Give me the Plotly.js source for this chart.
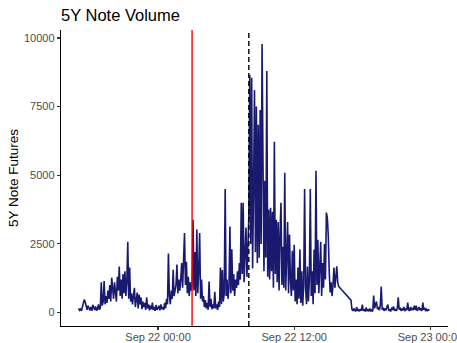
<!DOCTYPE html>
<html>
<head>
<meta charset="utf-8">
<script src="https://cdn.plot.ly/plotly-3.0.1.min.js"></script>
<style>html,body{margin:0;padding:0;background:#fff;}#chart{width:457px;height:343px;}</style>
</head>
<body>
<div id="chart"></div>
<script>
// Session starts (Central time) and sampling step in minutes
var overnightStart = '2021-09-21 17:00';
var eveningStart = '2021-09-22 17:00';
var stepMinutes = 5;

// 5Y Note futures volume, 5-minute samples, Sep 21 17:00 -> Sep 22 15:55 (one row per hour)
var volumeOvernight = [
  150, 80, 120, 60, 200, 300, 470, 380, 200, 100, 250, 120,      // 17
  80, 200, 60, 280, 150, 90, 220, 70, 130, 300, 100, 180,        // 18
  1100, 250, 400, 1150, 300, 600, 350, 800, 500, 1000, 400, 1270, // 19
  900, 500, 1100, 700, 400, 1300, 800, 1680, 600, 1200, 500, 1400, // 20
  700, 1500, 600, 1100, 2580, 500, 1640, 400, 700, 300, 600, 900, // 21
  200, 500, 730, 150, 650, 300, 550, 120, 400, 200, 350, 100,    // 22
  550, 150, 300, 80, 250, 120, 360, 90, 200, 60, 280, 100,       // 23
  150, 250, 80, 300, 120, 200, 100, 350, 150, 500, 300, 2150,    // 00
  600, 300, 800, 500, 1560, 600, 900, 1000, 1750, 700, 1200, 800, // 01
  1200, 1800, 900, 2180, 2900, 1000, 1850, 700, 1300, 600, 1100, 800, // 02
  1000, 3380, 800, 2200, 600, 3020, 700, 1500, 2900, 500, 1200, 400, // 03
  600, 200, 450, 150, 350, 100, 1130, 200, 500, 120, 300, 150,   // 04
  760, 150, 300, 100, 400, 200, 1640, 300, 1550, 400, 700, 4500, // 05
  600, 1200, 500, 900, 3130, 700, 2300, 800, 1400, 600, 1200, 900, // 06
  1500, 1000, 1800, 1200, 4000, 1400, 4000, 1100, 2000, 3100, 1300, 2400, // 07
  3500, 8650, 2500, 8550, 1600, 4500, 8100, 2200, 7500, 1800, 6840, 2000, // 08
  7380, 2500, 9780, 5450, 1500, 4800, 2000, 8800, 1300, 3750, 1200, 3820, // 09
  1500, 3670, 900, 6220, 1400, 3380, 1100, 3300, 800, 2900, 4000, 1000, // 10
  2400, 900, 5090, 800, 2000, 3300, 700, 2840, 1200, 600, 2250, 800, // 11
  2470, 400, 1200, 300, 1640, 500, 2300, 350, 1500, 250, 1000, 4500, // 12
  900, 300, 1680, 400, 1200, 4500, 600, 1500, 300, 2300, 700, 5160, // 13
  1000, 2650, 700, 1500, 2580, 600, 1800, 900, 2500, 1200, 3640, 3450, // 14
  2800, 1500, 730, 1100, 600, 1000, 1640, 900, 1500, 1680, 1100, 950  // 15
];

// Sep 22 17:00 -> 23:55
var volumeEvening = [
  450, 120, 60, 150, 80, 40, 200, 60, 100, 50, 130, 70,   // 17
  290, 60, 120, 40, 180, 70, 100, 50, 150, 60, 90, 40,    // 18
  620, 150, 300, 400, 120, 200, 80, 250, 950, 100, 180, 60, // 19
  150, 80, 200, 290, 60, 120, 40, 180, 90, 220, 70, 110,  // 20
  60, 150, 550, 100, 180, 60, 130, 80, 200, 50, 150, 90,  // 21
  360, 100, 60, 200, 80, 150, 120, 250, 90, 250, 60, 130, // 22
  200, 80, 150, 60, 360, 100, 180, 50, 120, 70, 100, 80   // 23
];

var eventRed = '2021-09-22 03:00';
var eventDashed = '2021-09-22 08:00';
var xTickVals = ['2021-09-22 00:00', '2021-09-22 12:00', '2021-09-23 00:00'];
var yTickVals = [0, 2500, 5000, 7500, 10000];
var xRange = ['2021-09-21 15:27', '2021-09-23 01:33'];
var yRange = [-490, 10290];

function pad(n){ return (n < 10 ? '0' : '') + n; }
function stamps(start, count) {
  var p = start.split(/[- :]/).map(Number);
  var t0 = Date.UTC(p[0], p[1]-1, p[2], p[3], p[4]);
  var out = [];
  for (var i = 0; i < count; i++) {
    var d = new Date(t0 + i * stepMinutes * 60000);
    out.push(d.getUTCFullYear() + '-' + pad(d.getUTCMonth()+1) + '-' + pad(d.getUTCDate()) + ' ' + pad(d.getUTCHours()) + ':' + pad(d.getUTCMinutes()));
  }
  return out;
}

var xs = stamps(overnightStart, volumeOvernight.length).concat(stamps(eveningStart, volumeEvening.length));
var ys = volumeOvernight.concat(volumeEvening);

var trace = {
  x: xs, y: ys, type: 'scatter', mode: 'lines',
  line: {color: '#191970', width: 1.6},
  hoverinfo: 'skip'
};

var FONT = 'Liberation Sans, Arial, sans-serif';
var axisFont = {family: FONT, size: 11, color: '#4d4d4d'};

var layout = {
  width: 457, height: 343,
  margin: {l: 61, r: 9, t: 30, b: 17, pad: 0},
  paper_bgcolor: '#ffffff', plot_bgcolor: '#ffffff',
  showlegend: false,
  font: {family: FONT, color: '#000'},
  title: {
    text: '5Y Note Volume', x: 61/457, xref: 'container', xanchor: 'left',
    y: 1 - 15/343, yref: 'container', yanchor: 'middle',
    font: {family: FONT, size: 16.5, color: '#000'}
  },
  xaxis: {
    type: 'date', range: xRange, tickvals: xTickVals, tickformat: '%b %d %H:%M',
    ticks: 'outside', ticklen: 3, tickwidth: 1.1, tickcolor: '#333333',
    showline: true, linecolor: '#000', linewidth: 1.2,
    showgrid: false, zeroline: false, tickfont: axisFont,
    ticklabeloverflow: 'allow', ticklabelstandoff: -2, automargin: false
  },
  yaxis: {
    range: yRange, tickvals: yTickVals, ticktext: yTickVals.map(String),
    ticks: 'outside', ticklen: 3, tickwidth: 1.1, tickcolor: '#333333',
    showline: true, linecolor: '#000', linewidth: 1.2,
    showgrid: false, zeroline: false, tickfont: axisFont, automargin: false,
    title: {text: '5Y Note Futures', font: {family: FONT, size: 13.5, color: '#000'}, standoff: 2}
  },
  shapes: [
    {type: 'line', xref: 'x', yref: 'paper', x0: eventRed, x1: eventRed, y0: 0, y1: 1,
     line: {color: '#ff0000', width: 1.4}, layer: 'above'},
    {type: 'line', xref: 'x', yref: 'paper', x0: eventDashed, x1: eventDashed, y0: 0, y1: 1,
     line: {color: '#000000', width: 1.4, dash: '5px,3px'}, layer: 'above'}
  ]
};

Plotly.newPlot('chart', [trace], layout, {staticPlot: true, displayModeBar: false});
</script>
</body>
</html>
